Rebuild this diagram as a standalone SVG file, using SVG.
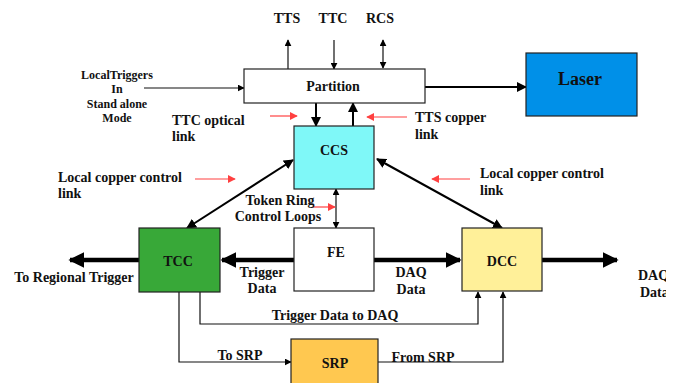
<svg xmlns="http://www.w3.org/2000/svg" width="680" height="383" viewBox="0 0 680 383" font-family="Liberation Serif, serif">
<style>
.t{font-weight:bold;font-size:14px;fill:#111;}
.s{font-size:12px;}
.c{text-anchor:middle;}
.box{stroke:#222;stroke-width:1.2;}
.ln{stroke:#111;fill:none;stroke-width:1.2;}
.th{stroke:#000;fill:none;stroke-width:2;}
.tk{stroke:#000;fill:none;stroke-width:4.5;}
.red{stroke:#ff4040;fill:none;stroke-width:1.2;}
</style>
<defs>
<marker id="a" viewBox="0 0 10 10" refX="9" refY="5" markerWidth="7" markerHeight="7" orient="auto-start-reverse" markerUnits="userSpaceOnUse"><path d="M0,0 L10,5 L0,10 z" fill="#000"/></marker>
<marker id="am" viewBox="0 0 10 10" refX="9" refY="5" markerWidth="10" markerHeight="10" orient="auto-start-reverse" markerUnits="userSpaceOnUse"><path d="M0,0 L10,5 L0,10 z" fill="#000"/></marker>
<marker id="ab" viewBox="0 0 10 10" refX="9" refY="5" markerWidth="16" markerHeight="16" orient="auto-start-reverse" markerUnits="userSpaceOnUse"><path d="M0,0 L10,5 L0,10 z" fill="#000"/></marker>
<marker id="ar" viewBox="0 0 10 10" refX="9" refY="5" markerWidth="8" markerHeight="8" orient="auto" markerUnits="userSpaceOnUse"><path d="M0,0 L10,5 L0,10 z" fill="#ff4040"/></marker>
<clipPath id="clipR"><rect x="0" y="0" width="666" height="383"/></clipPath>
</defs>
<rect width="680" height="383" fill="#fff"/>

<g id="connectors">
<line class="ln" x1="288" y1="69" x2="288" y2="40" marker-end="url(#a)"/>
<line class="ln" x1="334" y1="40" x2="334" y2="69" marker-end="url(#a)"/>
<line class="ln" x1="383" y1="40" x2="383" y2="68" marker-start="url(#a)" marker-end="url(#a)"/>
<line class="ln" x1="144" y1="88" x2="244" y2="88" marker-end="url(#a)"/>
<line class="th" x1="425" y1="87" x2="526" y2="87" marker-end="url(#am)"/>
<line class="th" x1="316" y1="103" x2="316" y2="126" marker-end="url(#am)"/>
<line class="th" x1="353" y1="126" x2="353" y2="103" marker-end="url(#am)"/>
<line class="th" x1="293" y1="160" x2="187" y2="228" marker-start="url(#am)" marker-end="url(#am)"/>
<line class="th" x1="377" y1="159" x2="502" y2="228" marker-start="url(#am)" marker-end="url(#am)"/>
<line class="ln" x1="336" y1="189" x2="336" y2="228" marker-start="url(#a)" marker-end="url(#a)"/>
<line class="tk" x1="294" y1="260" x2="222" y2="260" marker-end="url(#ab)"/>
<line class="tk" x1="374" y1="260" x2="460" y2="260" marker-end="url(#ab)"/>
<line class="tk" x1="139" y1="260" x2="70" y2="260" marker-end="url(#ab)"/>
<line class="tk" x1="542" y1="260" x2="617" y2="260" marker-end="url(#ab)"/>
<polyline class="ln" points="179,292 179,362 291,362" marker-end="url(#a)"/>
<polyline class="ln" points="200,292 200,324 478,324 478,292" marker-end="url(#a)"/>
<polyline class="ln" points="378,362 503,362 503,292" marker-end="url(#a)"/>
<line class="red" x1="270" y1="116" x2="297" y2="116" marker-end="url(#ar)"/>
<line class="red" x1="407" y1="117" x2="367" y2="117" marker-end="url(#ar)"/>
<line class="red" x1="195" y1="179" x2="235" y2="179" marker-end="url(#ar)"/>
<line class="red" x1="470" y1="179" x2="432" y2="179" marker-end="url(#ar)"/>
<line class="red" x1="313" y1="207" x2="335" y2="207" marker-end="url(#ar)"/>
</g>

<g id="partition"><rect class="box" x="244" y="69" width="181" height="34" fill="#fff"/><text class="t c" x="333" y="91">Partition</text></g>
<g id="laser"><rect class="box" x="526" y="53" width="111" height="63" fill="#0090e8"/><text class="t c" x="580" y="85" style="font-size:18px">Laser</text></g>
<g id="ccs"><rect class="box" x="294" y="126" width="80" height="63" fill="#7ff8f8"/><text class="t c" x="334" y="155">CCS</text></g>
<g id="tcc"><rect class="box" x="139" y="228" width="81" height="64" fill="#38a838"/><text class="t c" x="178" y="266">TCC</text></g>
<g id="fe"><rect class="box" x="294" y="228" width="80" height="63" fill="#fff"/><text class="t c" x="336" y="257">FE</text></g>
<g id="dcc"><rect class="box" x="462" y="228" width="80" height="63" fill="#fff099"/><text class="t c" x="502" y="266">DCC</text></g>
<g id="srp"><rect class="box" x="291" y="339" width="87" height="50" fill="#ffc850"/><text class="t c" x="335" y="368">SRP</text></g>

<g id="labels">
<text class="t c" x="287" y="23">TTS</text>
<text class="t c" x="333" y="23">TTC</text>
<text class="t c" x="380" y="23">RCS</text>
<text class="t c s" x="117" y="79">LocalTriggers</text>
<text class="t c s" x="117" y="93">In</text>
<text class="t c s" x="117" y="108">Stand alone</text>
<text class="t c s" x="117" y="122">Mode</text>
<text class="t" x="172" y="125">TTC  optical</text>
<text class="t" x="172" y="141">link</text>
<text class="t" x="415" y="122">TTS copper</text>
<text class="t" x="415" y="139">link</text>
<text class="t" x="58" y="182">Local copper control</text>
<text class="t" x="58" y="198">link</text>
<text class="t" x="480" y="178">Local copper control</text>
<text class="t" x="480" y="195">link</text>
<text class="t c" x="280" y="205">Token Ring</text>
<text class="t c" x="278" y="221">Control Loops</text>
<text class="t c" x="74" y="282">To Regional Trigger</text>
<text class="t c" x="262" y="277">Trigger</text>
<text class="t c" x="262" y="293">Data</text>
<text class="t c" x="411" y="277">DAQ</text>
<text class="t c" x="411" y="294">Data</text>
<g clip-path="url(#clipR)"><text class="t" x="638" y="280">DAQ</text><text class="t" x="640" y="297">Data</text></g>
<text class="t c" x="335" y="320">Trigger Data to DAQ</text>
<text class="t c" x="240" y="360">To SRP</text>
<text class="t c" x="423" y="362">From SRP</text>
</g>
</svg>
